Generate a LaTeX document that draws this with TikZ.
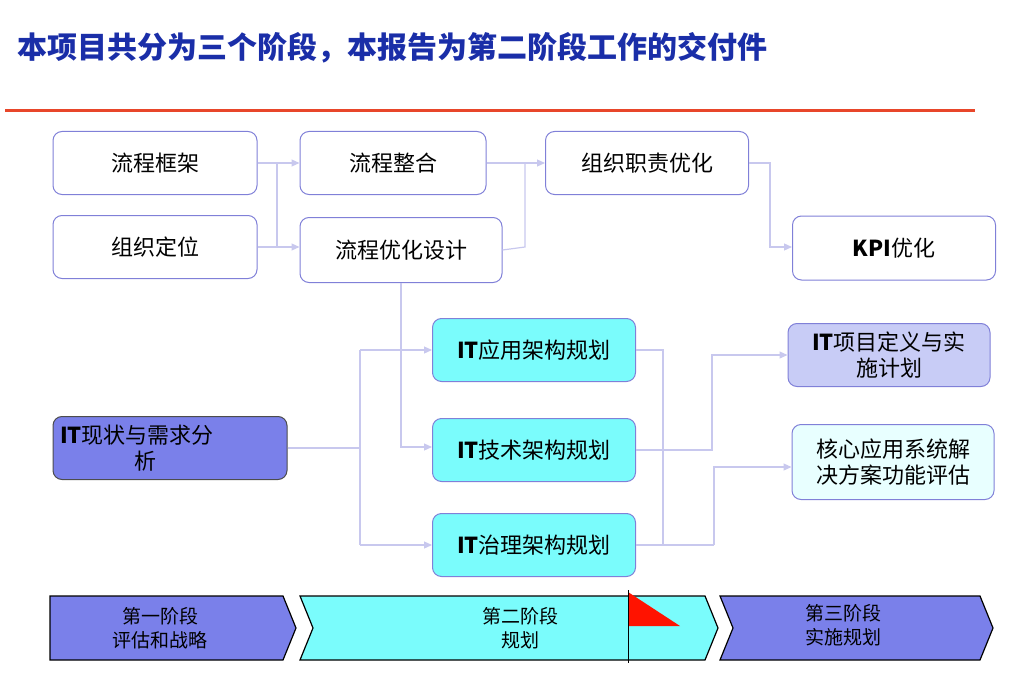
\documentclass[tikz,border=0pt]{standalone}
\usepackage{fontspec}
\setmainfont{Noto Sans CJK SC}
\usetikzlibrary{arrows.meta}
\definecolor{ln}{HTML}{C8C8EE}
\definecolor{bd}{HTML}{8080D8}
\definecolor{pur}{HTML}{7A80EA}
\definecolor{cy}{HTML}{7AFCFC}
\definecolor{lp}{HTML}{C8CCF6}
\definecolor{lc}{HTML}{E8FFFF}
\definecolor{tt}{HTML}{1A2EA8}
\begin{document}
\begin{tikzpicture}[x=1pt,y=-1pt,
 box/.style={draw=bd,line width=1pt,rounded corners=9pt,fill=white,font=\fontsize{22}{26}\selectfont,align=center,inner sep=0pt},
 con/.style={draw=ln,line width=1.2pt},
 arr/.style={con,-{Triangle[length=8pt,width=7pt]}},
 stage/.style={draw=black,line width=1.2pt},
 st/.style={font=\fontsize{19}{24}\selectfont,align=center}]
\useasboundingbox (0,0) rectangle (1024,679);
\node[anchor=west,text=tt,font=\fontsize{30}{34}\selectfont\bfseries] (title) at (14,48) {本项目共分为三个阶段，本报告为第二阶段工作的交付件};
\draw[draw={rgb,255:red,232;green,70;blue,42},line width=3pt] (5,111) -- (975,111);
% boxes
\node[box,minimum width=204pt,minimum height=63pt] (a) at (155,163) {流程框架};
\node[box,minimum width=204pt,minimum height=63pt] (b) at (155,247) {组织定位};
\node[box,minimum width=186pt,minimum height=63pt] (c) at (393,163) {流程整合};
\node[box,minimum width=202pt,minimum height=65pt] (d) at (401,250) {流程优化设计};
\node[box,minimum width=203pt,minimum height=63pt] (e) at (647,163) {组织职责优化};
\node[box,minimum width=203pt,minimum height=64pt] (f) at (894,248) {\textbf{KPI}优化};
\node[box,fill=cy,minimum width=203pt,minimum height=63pt] (g) at (534,350) {\textbf{IT}应用架构规划};
\node[box,fill=cy,minimum width=203pt,minimum height=63pt] (h) at (534,450) {\textbf{IT}技术架构规划};
\node[box,fill=cy,minimum width=203pt,minimum height=63pt] (i) at (534,545) {\textbf{IT}治理架构规划};
\node[box,fill=pur,draw=black!70,minimum width=234pt,minimum height=63pt,align=left,text width=220pt] (j) at (170,448) {\textbf{IT}现状与需求分\\\hspace*{74pt}析};
\node[box,fill=lp,minimum width=202pt,minimum height=63pt] (k) at (889,355) {\textbf{IT}项目定义与实\\施计划};
\node[box,fill=lc,minimum width=202pt,minimum height=75pt] (l) at (893,462) {核心应用系统解\\决方案功能评估};
% connectors
\coordinate (p1) at (277,163);
\draw[con] (a.east) -- (p1);
\draw[arr] (p1) -- (c.west);
\draw[con] (b.east) -- (277,247) -- (p1);
\draw[arr] (277,247) -- (d.west|-277,247);
\draw[con] (c.east) -- (525,163);
\draw[con] (d.east) -- (525,247) -- (525,163);
\draw[arr] (525,163) -- (e.west);
\draw[arr] (e.east) -- (770,163) -- (770,247) -- (f.west|-770,247);
\draw[arr] (401,283) -- (401,447) -- (h.west|-401,447);
\draw[con] (j.east) -- (360,448);
\draw[con] (360,350) -- (360,545);
\draw[arr] (360,350) -- (g.west);
\draw[arr] (360,545) -- (i.west);
\draw[con] (g.east) -- (663,350) -- (663,545);
\draw[con] (i.east) -- (714,545);
\draw[arr] (714,545) -- (714,467) -- (l.west|-714,467);
\draw[arr] (h.east) -- (712,450) -- (712,355) -- (k.west);
% stages
\draw[stage,fill=pur] (50,596) -- (283,596) -- (296,628) -- (283,660) -- (50,660) -- cycle;
\draw[stage,fill=cy] (300,596) -- (705,596) -- (718,628) -- (705,660) -- (300,660) -- (313,628) -- cycle;
\draw[stage,fill=pur] (720,596) -- (980,596) -- (993,628) -- (980,660) -- (720,660) -- (733,628) -- cycle;
\node[st] (s1) at (160,628) {第一阶段\\评估和战略};
\node[st] (s2) at (520,628) {第二阶段\\规划};
\node[st] (s3) at (843,625) {第三阶段\\实施规划};
\fill[red!85!orange] (628,592) -- (680,626) -- (628,626) -- cycle;
\draw[line width=1pt] (628,590) -- (628,663);
\end{tikzpicture}
\end{document}
